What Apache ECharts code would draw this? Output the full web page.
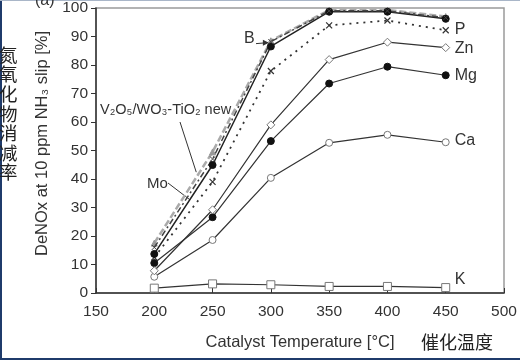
<!DOCTYPE html>
<html><head><meta charset="utf-8">
<script src="https://cdn.jsdelivr.net/npm/echarts@6/dist/echarts.min.js"></script>
<style>html,body{margin:0;padding:0;background:#fff}#c{width:520px;height:360px}</style>
</head><body><div id="c"></div>
<script>
const temps = [200, 250, 300, 350, 400, 450];
const xTicks = [150, 200, 250, 300, 350, 400, 450, 500];
const yTicks = [0, 10, 20, 30, 40, 50, 60, 70, 80, 90, 100];
const v2o5New = [17.5, 49.5, 88.5, 99.3, 99.3, 97];
const seriesB = [16, 47, 88.2, 99, 99, 96.6];
const seriesMo = [13.7, 44.9, 86.5, 98.7, 98.7, 96.2];
const seriesP = [12.5, 39, 77.9, 93.9, 95.6, 92.2];
const seriesZn = [7.8, 29.2, 59, 81.9, 88, 86.1];
const seriesMg = [10.5, 26.6, 53.3, 73.5, 79.4, 76.4];
const seriesCa = [5.7, 18.6, 40.4, 52.7, 55.5, 52.9];
const seriesK = [1.7, 3.2, 2.9, 2.3, 2.3, 1.9];

const FONT = 'Liberation Sans, Arial, sans-serif';
const DARK = '#333';
const CROSS = 'path://M0,0L10,10M10,0L0,10';
const pairs = arr => temps.map((t, i) => [t, arr[i]]);

function mk(name, data, opt) {
  return Object.assign({
    name: name, type: 'line', data: pairs(data), animation: false,
    lineStyle: { color: DARK, width: 1.2 },
    symbolSize: 7,
    endLabel: { show: false },
    z: 3
  }, opt);
}
function endLab(text, dy) {
  return { show: true, formatter: text, color: DARK, fontFamily: FONT, fontSize: 16, distance: 9, offset: [0, dy || 0] };
}

const chart = echarts.init(document.getElementById('c'), null, { renderer: 'canvas' });
chart.setOption({
  animation: false,
  grid: { left: 96, right: 16, top: 3, bottom: 67, show: true, borderColor: '#9a9a9a', borderWidth: 1.5 },
  xAxis: {
    type: 'value', min: xTicks[0], max: xTicks[xTicks.length - 1], interval: 50,
    name: 'Catalyst Temperature [°C]', nameLocation: 'middle', nameGap: 41,
    nameTextStyle: { color: DARK, fontFamily: FONT, fontSize: 16.5 },
    axisLine: { lineStyle: { color: DARK, width: 1.5 } },
    axisTick: { inside: true, length: 5, lineStyle: { color: DARK } },
    axisLabel: { color: DARK, fontFamily: FONT, fontSize: 15.5, margin: 11 },
    splitLine: { show: false }
  },
  yAxis: {
    type: 'value', min: yTicks[0], max: yTicks[yTicks.length - 1], interval: 10,
    name: 'DeNOx at 10 ppm NH\u2083 slip [%]', nameLocation: 'middle', nameGap: 45,
    nameTextStyle: { color: DARK, fontFamily: FONT, fontSize: 16.5, padding: [0, 0, 0, 14] },
    axisLine: { show: true, lineStyle: { color: DARK, width: 1.5 } },
    axisTick: { show: true, length: 5, lineStyle: { color: DARK } },
    axisLabel: { color: DARK, fontFamily: FONT, fontSize: 15.5, margin: 8 },
    splitLine: { show: false }
  },
  series: [
    mk('K', seriesK, { symbol: 'rect', symbolSize: 8, itemStyle: { color: '#fff', borderColor: '#777', borderWidth: 1 }, endLabel: endLab('K', -8) }),
    mk('Ca', seriesCa, { symbol: 'circle', itemStyle: { color: '#fff', borderColor: '#777', borderWidth: 1 }, endLabel: endLab('Ca', -2) }),
    mk('Mg', seriesMg, { symbol: 'circle', itemStyle: { color: '#111', borderColor: '#111' }, endLabel: endLab('Mg', 0) }),
    mk('Zn', seriesZn, { symbol: 'diamond', symbolSize: 8, itemStyle: { color: '#fff', borderColor: '#777', borderWidth: 1 }, endLabel: endLab('Zn', 1) }),
    mk('P', seriesP, { symbol: CROSS, symbolSize: 6, lineStyle: { color: DARK, width: 1.8, type: [2, 5] }, itemStyle: { color: 'none', borderColor: '#333', borderWidth: 1.2 }, endLabel: endLab('P', -1) }),
    mk('Mo', seriesMo, { symbol: 'circle', symbolSize: 7, lineStyle: { color: '#222', width: 1.5 }, itemStyle: { color: '#111', borderColor: '#111' } }),
    mk('B', seriesB, { symbol: CROSS, symbolSize: 5, lineStyle: { color: '#444', width: 1.5, type: [6, 3, 2, 3] }, itemStyle: { color: 'none', borderColor: '#444', borderWidth: 1 } }),
    mk('V2O5/WO3-TiO2 new', v2o5New, { symbol: 'triangle', symbolSize: 6, lineStyle: { color: '#aaa', width: 2.5, type: [7, 3] }, itemStyle: { color: '#999', borderColor: '#999' }, z: 2 })
  ]
});

const P = (x, y) => chart.convertToPixel({ gridIndex: 0 }, [x, y]);
const pB = P(temps[2], seriesB[2]);
const pMo = P(230.6, 32.7);
const pV = P(236, 42.4);
const txt = (t, x, y, o) => ({ type: 'text', left: x, top: y, silent: true, style: Object.assign({ text: t, fill: DARK, font: '15px ' + FONT }, o || {}) });

chart.setOption({
  graphic: [
    { type: 'rect', left: 0, top: 0, shape: { width: 2, height: 360 }, style: { fill: '#1f3b6b' } },
    { type: 'rect', left: 0, top: 358, shape: { width: 520, height: 2 }, style: { fill: '#1f3b6b' } },
    { type: 'rect', left: 0, top: 0, shape: { width: 520, height: 1 }, style: { fill: '#a9b6c8' } },
    txt('(a)', 35, -7, { font: '16px ' + FONT }),
    { type: 'text', left: -1, top: 45, silent: true, style: { text: '氮\n氧\n化\n物\n消\n减\n率', fill: '#222', font: '18.5px "Noto Sans CJK SC"', lineHeight: 19.6 } },
    txt('催化温度', 421, 333, { font: '18px "Noto Sans CJK SC"', fill: '#222' }),
    txt('B', 244, 31, { font: '16px ' + FONT }),
    { type: 'line', silent: true, shape: { x1: 256, y1: pB[1] + 2, x2: pB[0] - 3, y2: pB[1] + 1 }, style: { stroke: DARK, lineWidth: 1 } },
    { type: 'polygon', silent: true, shape: { points: [[pB[0] - 2, pB[1] + 1], [pB[0] - 8, pB[1] - 2], [pB[0] - 8, pB[1] + 4]] }, style: { fill: DARK } },
    txt('V\u2082O\u2085/WO\u2083-TiO\u2082 new', 100, 102, { font: '14.5px ' + FONT }),
    { type: 'line', silent: true, shape: { x1: 180, y1: 122, x2: pV[0], y2: pV[1] }, style: { stroke: DARK, lineWidth: 1 } },
    txt('Mo', 147, 176, { font: '15px ' + FONT }),
    { type: 'line', silent: true, shape: { x1: 168, y1: 183, x2: pMo[0], y2: pMo[1] }, style: { stroke: DARK, lineWidth: 1 } }
  ]
});
</script></body></html>
